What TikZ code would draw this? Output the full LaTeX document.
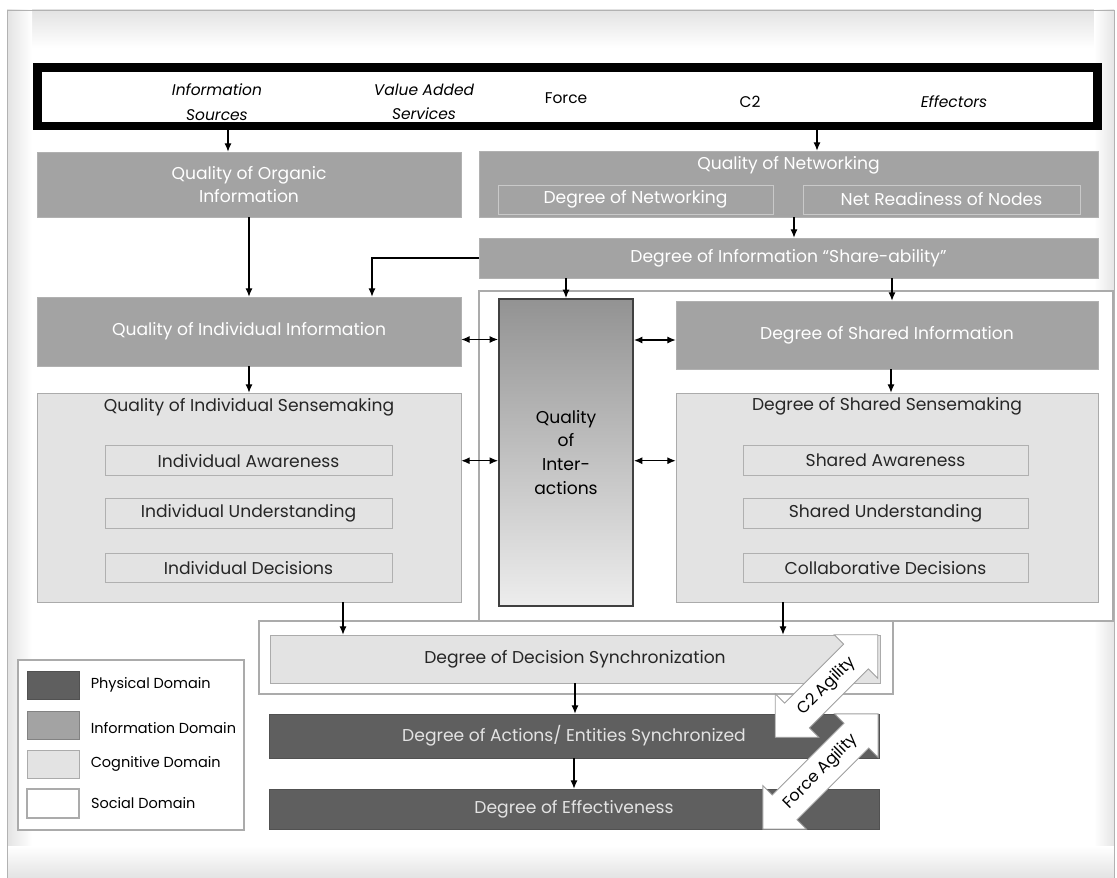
\documentclass[tikz,border=0pt]{standalone}
\usepackage{fontspec}
\setmainfont{Poppins}
\usepackage{tikz}
\usetikzlibrary{calc}
\usetikzlibrary{positioning}
\usetikzlibrary{shapes.arrows}
\usetikzlibrary{arrows.meta}
\def\pxu{0.025cm}
\definecolor{physgray}{HTML}{5F5F5F}
\definecolor{infogray}{HTML}{A3A3A3}
\definecolor{coggray}{HTML}{E3E3E3}
\definecolor{rulegray}{HTML}{ABABAB}
\tikzset{sz/.style 2 args={minimum width={#1*\pxu}, minimum height={#2*\pxu}}}
\tikzstyle{boxnode} = [rectangle, inner sep=0pt, align=center, font=\fontsize{12.2}{16}\selectfont]
\tikzstyle{barnode} = [rectangle, inner sep=0pt, draw=black, line width=0.21cm, fill=white]
\tikzstyle{bartext} = [align=center, font=\fontsize{11}{17.5}\selectfont\itshape]
\tikzstyle{physnode} = [boxnode, fill=physgray, draw=physgray!85!black, text=gray!22]
\tikzstyle{infonode} = [boxnode, fill=infogray, draw=infogray!85!white, text=white]
\tikzstyle{infosub} = [infonode, draw=gray!42, line width=0.6pt]
\tikzstyle{cognode} = [boxnode, fill=coggray, draw=rulegray, text=black!85]
\tikzstyle{cogsub} = [cognode, draw=gray!62, line width=0.6pt]
\tikzstyle{socnode} = [boxnode, fill=white, draw=rulegray, line width=0.8pt]
\tikzstyle{interactnode} = [boxnode, draw=black!75, line width=1.4pt, top color=gray!85, bottom color=gray!14, font=\fontsize{12.2}{17}\selectfont]
\tikzstyle{legtext} = [anchor=west, inner sep=0pt, font=\fontsize{10.3}{12}\selectfont]
\tikzstyle{agilnode} = [double arrow, double arrow tip angle=90, double arrow head extend=0.33cm, fill=white, draw=gray!75, line width=0.6pt, inner xsep=0pt, inner ysep=0.24cm, text height=8.5pt, text depth=2.2pt, font=\fontsize{11.5}{13}\selectfont]
\tikzstyle{arr} = [-{Latex[length=6pt,width=5pt]}, line width=0.8pt]
\tikzstyle{darr} = [{Latex[length=6pt,width=5pt]}-{Latex[length=6pt,width=5pt]}, line width=0.8pt]

\begin{document}
\begin{tikzpicture}[x=0.025cm, y=-0.025cm]
    \useasboundingbox (0,0) rectangle (1117,878);
    \shade[top color=gray!22, bottom color=white] (7,10) rectangle (1114,48);
    \shade[left color=gray!22, right color=white] (7,10) rectangle (32,878);
    \shade[left color=white, right color=gray!20] (1094,10) rectangle (1114,878);
    \shade[top color=white, bottom color=gray!22] (7,846) rectangle (1114,878);
    \draw[gray!60] (7,890) -- (7,10) -- (1114,10) -- (1114,890);

    \node[barnode, sz={1060}{58.5}] (bar) at (567.5,96.75) {};
    \node[bartext] (info_src) at (217,102) {Information\\Sources};
    \node[bartext] (value_add) at (424,102) {Value Added\\Services};
    \node[bartext, font=\fontsize{11}{17.5}\selectfont] (force) at (566,98) {Force};
    \node[bartext, font=\fontsize{11}{17.5}\selectfont] (ctwo) at (750,102) {C2};
    \node[bartext] (effectors) at (954,102) {Effectors};

    \node[socnode, sz={634}{330}] (social_top) at (796,456) {};
    \node[socnode, sz={634}{73}] (social_bot) at (576,657.5) {};

    \node[infonode, sz={424}{65}] (organic) at (249,184.5) {Quality of Organic\\Information};
    \node[infonode, sz={619}{66}] (networking) at (788.5,184) {};
    \node[infonode, fill=none, draw=none] (networking_title) at ($(networking.north)+(0,15)$) {Quality of Networking};
    \node[infosub, sz={275}{29}] (deg_net) at (635.5,199.5) {Degree of Networking};
    \node[infosub, sz={277}{29}] (net_ready) at (941.5,199.5) {Net Readiness of Nodes};
    \node[infonode, sz={619}{40}] (share) at (788.5,258) {Degree of Information “Share-ability”};
    \node[infonode, sz={424}{69}] (ind_info) at (249,331.5) {Quality of Individual Information};
    \node[infonode, sz={422}{68}] (shared_info) at (887,335) {Degree of Shared Information};
    \node[interactnode, sz={134}{307}] (interact) at (566,452.5) {Quality\\of\\Inter-\\actions};

    \node[cognode, sz={424}{209}] (ind_sense) at (249,497.5) {};
    \node[cognode, fill=none, draw=none] (ind_sense_title) at ($(ind_sense.north)+(0,15)$) {Quality of Individual Sensemaking};
    \node[cogsub, sz={287}{30}] (ind_aware) at ($(ind_sense.north)+(-0.5,68)$) {Individual Awareness};
    \node[cogsub, sz={287}{30}] (ind_under) at ($(ind_sense.north)+(-0.5,121)$) {Individual Understanding};
    \node[cogsub, sz={287}{29}] (ind_dec) at ($(ind_sense.north)+(-0.5,175)$) {Individual Decisions};

    \node[cognode, sz={422}{209}] (shared_sense) at (887,497.5) {};
    \node[cognode, fill=none, draw=none] (shared_sense_title) at ($(shared_sense.north)+(0,14)$) {Degree of Shared Sensemaking};
    \node[cogsub, sz={285}{30}] (sh_aware) at ($(shared_sense.north)+(-1.5,68)$) {Shared Awareness};
    \node[cogsub, sz={285}{30}] (sh_under) at ($(shared_sense.north)+(-1.5,121)$) {Shared Understanding};
    \node[cogsub, sz={285}{29}] (collab_dec) at ($(shared_sense.north)+(-1.5,175)$) {Collaborative Decisions};

    \node[cognode, sz={610}{48}] (dec_sync) at (575,659) {Degree of Decision Synchronization};
    \node[physnode, sz={610}{44}] (act_sync) at (574,736) {Degree of Actions/ Entities Synchronized};
    \node[physnode, sz={610}{40}] (effect) at (574,809) {Degree of Effectiveness};

    \node[socnode, sz={226}{170}] (legend) at (131,745) {};
    \node[physnode, sz={52}{28}] (key_phys) at (53,685) {};
    \node[infonode, draw=infogray!80!black, sz={52}{28}] (key_info) at (53,725) {};
    \node[cognode, sz={52}{28}] (key_cog) at (53,764) {};
    \node[socnode, sz={52}{29}] (key_soc) at (53,803.5) {};
    \node[legtext, right=0.28cm of key_phys] (lab_phys) {Physical Domain};
    \node[legtext, right=0.28cm of key_info, yshift=-2pt] (lab_info) {Information Domain};
    \node[legtext, right=0.28cm of key_cog] (lab_cog) {Cognitive Domain};
    \node[legtext, right=0.28cm of key_soc] (lab_soc) {Social Domain};

    \draw[arr] ([xshift=-21*\pxu]organic.north |- bar.south) -- ([xshift=-21*\pxu]organic.north);
    \draw[arr] ([xshift=28.5*\pxu]networking.north |- bar.south) -- ([xshift=28.5*\pxu]networking.north);
    \draw[arr] (organic.south) -- (ind_info.north);
    \draw[arr] ([xshift=5.5*\pxu]networking.south) -- ([xshift=5.5*\pxu]share.north);
    \draw[arr] (share.west) -| ([xshift=123*\pxu]ind_info.north);
    \draw[arr] (interact.north |- share.south) -- (interact.north);
    \draw[arr] ([xshift=5*\pxu]shared_info.north |- share.south) -- ([xshift=5*\pxu]shared_info.north);
    \draw[arr] (ind_info.south) -- (ind_sense.north);
    \draw[arr] ([xshift=4*\pxu]shared_info.south) -- ([xshift=4*\pxu]shared_sense.north);
    \draw[darr] ([yshift=-8*\pxu]ind_info.east) -- ([yshift=-8*\pxu]ind_info.east -| interact.west);
    \draw[darr] ([yshift=-5*\pxu]shared_info.west -| interact.east) -- ([yshift=-5*\pxu]shared_info.west);
    \draw[darr] (ind_sense.east |- ind_aware) -- (interact.west |- ind_aware);
    \draw[darr] (interact.east |- sh_aware) -- (shared_sense.west |- sh_aware);
    \draw[arr] ([xshift=94*\pxu]ind_sense.south) -- ([xshift=94*\pxu]ind_sense.south |- dec_sync.north);
    \draw[arr] ([xshift=-104*\pxu]shared_sense.south) -- ([xshift=-104*\pxu]shared_sense.south |- dec_sync.north);
    \draw[arr] (dec_sync.south) -- (dec_sync.south |- act_sync.north);
    \draw[arr] (act_sync.south) -- (effect.north);

    \node[agilnode, minimum height={145*\pxu}, rotate=45] (c2_agil) at (826.5,686) {C2 Agility};
    \node[agilnode, minimum height={163*\pxu}, rotate=45] (force_agil) at (820.5,771.5) {Force Agility};
\end{tikzpicture}
\end{document}
